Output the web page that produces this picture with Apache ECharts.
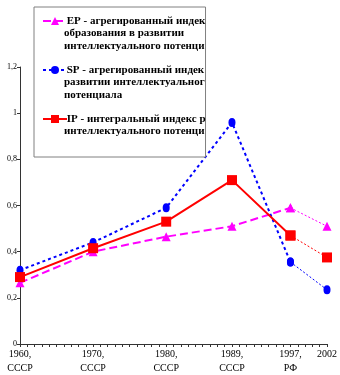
<!DOCTYPE html>
<html><head><meta charset="utf-8">
<script src="https://cdn.jsdelivr.net/npm/echarts@6/dist/echarts.min.js"></script>
<style>html,body{margin:0;padding:0;background:#fff}#c{width:340px;height:375px}</style>
</head><body><div id="c"></div>
<script>
const years = [1960, 1970, 1980, 1989, 1997, 2002];
const yearLabels = ['1960,\nСССР', '1970,\nСССР', '1980,\nСССР', '1989,\nСССР', '1997,\nРФ', '2002'];
const epValues = [0.265, 0.40, 0.465, 0.51, 0.59, 0.51];
const spValues = [0.32, 0.44, 0.59, 0.96, 0.355, 0.235];
const ipValues = [0.29, 0.415, 0.53, 0.71, 0.47, 0.375];
const seriesNames = ['EP', 'SP', 'IP'];
const legendTexts = [
  'EP - агрегированный индек\nобразования в развитии\nинтеллектуального потенци',
  'SP - агрегированный индек\nразвитии интеллектуальног\nпотенциала',
  'IP - интегральный индекс р\nинтеллектуального потенци'
];
const yTicks = [0, 0.2, 0.4, 0.6, 0.8, 1, 1.2];

const colors = ['#FF00FF', '#0000FF', '#FF0000'];
const symbols = ['triangle', 'circle', 'rect'];
const symSizes = [9, [7, 9], 10];
const dashes = [[8, 4], [3, 3], 'solid'];
const allValues = [epValues, spValues, ipValues];

function pairs(vals, from, to) {
  const out = [];
  for (let i = from; i <= to; i++) out.push([years[i], vals[i]]);
  return out;
}

const series = [];
seriesNames.forEach((n, k) => {
  series.push({
    name: n + '_tail', type: 'line',
    data: pairs(allValues[k], 4, 5),
    symbol: symbols[k], symbolSize: symSizes[k],
    itemStyle: { color: colors[k] },
    lineStyle: { color: colors[k], width: 1, type: [2, 2] },
    z: 2, animation: false
  });
});
seriesNames.forEach((n, k) => {
  series.push({
    name: n, type: 'line',
    data: pairs(allValues[k], 0, 4),
    symbol: symbols[k], symbolSize: symSizes[k],
    itemStyle: { color: colors[k] },
    lineStyle: { color: colors[k], width: 2, type: dashes[k] },
    z: 3, animation: false
  });
});

const chart = echarts.init(document.getElementById('c'), null, { renderer: 'canvas' });
chart.setOption({
  backgroundColor: '#fff',
  animation: false,
  grid: { left: 20, right: 7, top: 67, bottom: 30, containLabel: false },
  legend: {
    orient: 'vertical', left: 34, top: 7,
    data: seriesNames,
    itemWidth: 24, itemHeight: 10, itemGap: -13,
    padding: [-17, 0, 7, 8],
    backgroundColor: '#fff', borderColor: '#808080', borderWidth: 1, borderRadius: 0,
    formatter: function (name) {
      const i = seriesNames.indexOf(name);
      const t = legendTexts[i];
      const n = t.split('\n').length;
      return '\n\n ' + t + (n < 3 ? '\n' : '');
    },
    textStyle: {
      fontFamily: 'Liberation Serif', fontSize: 11, fontWeight: 'bold', color: '#000',
      lineHeight: 12.4, width: 140, padding: [0, 0, 0, -8]
    },
    z: 10
  },
  xAxis: {
    type: 'value', min: 1960, max: 2002, interval: 1,
    axisLine: { lineStyle: { color: '#333', width: 1 } },
    axisTick: { show: true, length: 3, lineStyle: { color: '#333' } },
    splitLine: { show: false },
    axisLabel: {
      margin: 3, fontFamily: 'Liberation Serif', fontSize: 10, color: '#000', lineHeight: 14,
      formatter: function (v) { const i = years.indexOf(v); return i >= 0 ? yearLabels[i] : ''; }
    }
  },
  yAxis: {
    type: 'value', min: 0, max: 1.2, interval: 0.2,
    axisLine: { show: true, lineStyle: { color: '#333', width: 1 } },
    axisTick: { show: true, length: 3, lineStyle: { color: '#333' } },
    splitLine: { show: false },
    axisLabel: {
      margin: 3, fontFamily: 'Liberation Serif', fontSize: 8, color: '#000',
      formatter: function (v) {
        const t = yTicks.find(x => Math.abs(x - v) < 1e-6);
        return String(t === undefined ? v : t).replace('.', ',');
      }
    }
  },
  series: series
});
</script></body></html>
